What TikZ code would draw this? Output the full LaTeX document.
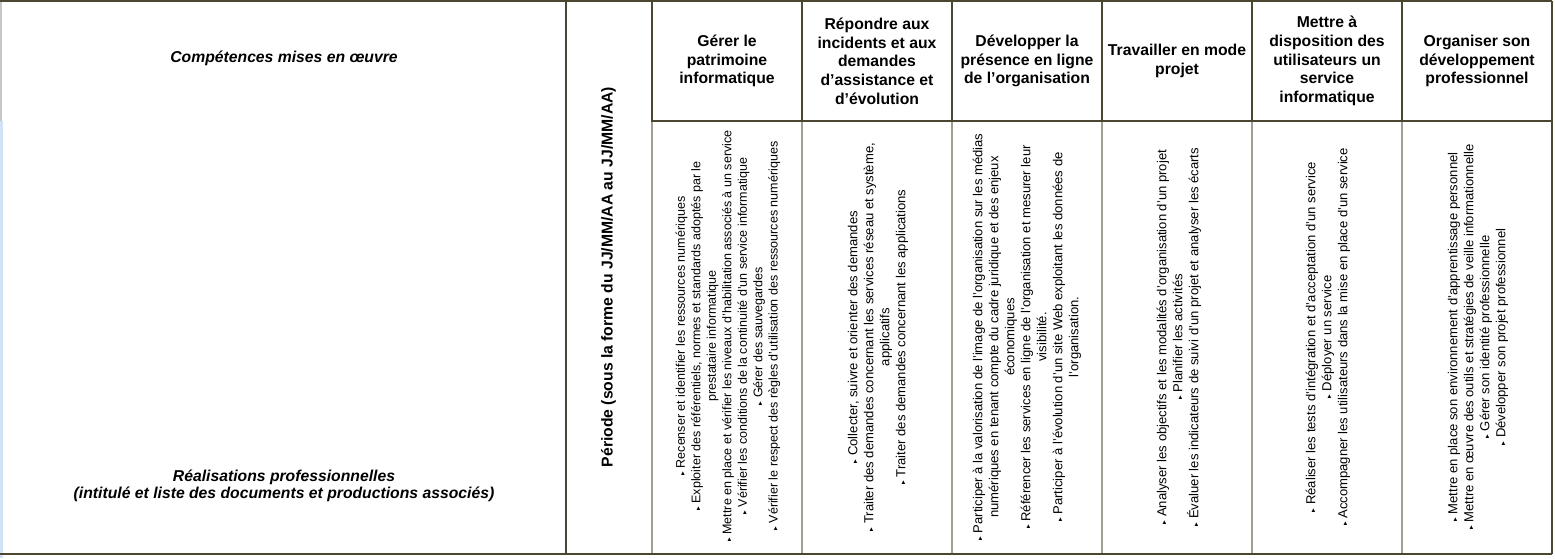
\documentclass[tikz,border=0pt]{standalone}
\usepackage{fontspec}
\setmainfont{Liberation Sans}
\newfontfamily\symfont{DejaVu Sans}
\usetikzlibrary{positioning}

\definecolor{rulecol}{HTML}{4A4630}
\definecolor{softcol}{HTML}{A29E92}
\definecolor{edgeblue}{HTML}{D2E2F6}

\newcommand{\puce}{{\symfont\fontsize{5.5}{5.5}\selectfont ▸}~}

\tikzset{
  rule/.style={rulecol, line width=1.5pt},
  softrule/.style={softcol, line width=1.5pt},
  headcell/.style={align=center, inner sep=0pt, font=\bfseries\fontsize{11.8}{14}\selectfont},
  sidecell/.style={align=center, inner sep=0pt, font=\bfseries\itshape\fontsize{11.8}{13}\selectfont},
  bodycell/.style={rotate=90, align=center, inner sep=0pt, font=\fontsize{9.8}{12}\selectfont},
}

\begin{document}
\begin{tikzpicture}[x=0.75pt, y=-0.75pt]
	\useasboundingbox (0,0) rectangle (1555,558);

	% left edge of the capture
	\fill[gray!45] (0,0) rectangle (1.5,121);
	\fill[edgeblue] (0,121) rectangle (3,558);

	% grid, body columns
	\draw[softrule] (652,121) -- (652,553);
	\draw[softrule] (802,121) -- (802,553);
	\draw[softrule] (952,121) -- (952,553);
	\draw[softrule] (1102,121) -- (1102,553);
	\draw[softrule] (1252,121) -- (1252,553);
	\draw[softrule] (1402,121) -- (1402,553);

	% grid, header columns and frame
	\draw[rule] (652,1) -- (652,121);
	\draw[rule] (802,1) -- (802,121);
	\draw[rule] (952,1) -- (952,121);
	\draw[rule] (1102,1) -- (1102,121);
	\draw[rule] (1252,1) -- (1252,121);
	\draw[rule] (1402,1) -- (1402,121);
	\draw[rule] (651,121) -- (1552,121);
	\draw[rule] (565.5,1) -- (565.5,553);
	\draw[rule] (1551.5,0.5) -- (1551.5,553.5);
	\draw[rule] (0,1) -- (1552,1);
	\draw[rule] (0,553.5) -- (1552,553.5);

	% left column
	\node[sidecell] (comp) at (284,58) {Compétences mises en œuvre};
	\node[sidecell] (real) at (284,486) {Réalisations professionnelles\\(intitulé et liste des documents et productions associés)};

	\node[headcell, rotate=90] (periode) at (608.5,277) {Période (sous la forme du JJ/MM/AA au JJ/MM/AA)};

	% header row
	\node[headcell] (patri) at (727,61) {Gérer le\\patrimoine\\informatique};
	\node[headcell] (incid) at (877,61) {Répondre aux\\incidents et aux\\demandes\\d’assistance et\\d’évolution};
	\node[headcell] (presence) at (1027,61) {Développer la\\présence en ligne\\de l’organisation};
	\node[headcell] (projet) at (1177,61) {Travailler en mode\\projet};
	\node[headcell] (service) at (1327,61) {Mettre à\\disposition des\\utilisateurs un\\service\\informatique};
	\node[headcell] (devpro) at (1477,61) {Organiser son\\développement\\professionnel};

	% body row
	\node[bodycell, font=\fontsize{9.4}{11.6}\selectfont] (patriB) at (728,336) {\puce Recenser et identifier les ressources numériques\\
		\puce Exploiter des référentiels, normes et standards adoptés par le\\
		prestataire informatique\\
		\puce Mettre en place et vérifier les niveaux d'habilitation associés à un service\\
		\puce Vérifier les conditions de la continuité d'un service informatique\\
		\puce Gérer des sauvegardes\\
		\puce Vérifier le respect des règles d'utilisation des ressources numériques};
	\node[bodycell] (incidB) at (878,337) {\puce Collecter, suivre et orienter des demandes\\
		\puce Traiter des demandes concernant les services réseau et système,\\
		applicatifs\\
		\puce Traiter des demandes concernant les applications};
	\node[bodycell] (presenceB) at (1027,337) {\puce Participer à la valorisation de l'image de l'organisation sur les médias\\
		numériques en tenant compte du cadre juridique et des enjeux\\
		économiques\\
		\puce Référencer les services en ligne de l'organisation et mesurer leur\\
		visibilité.\\
		\puce Participer à l'évolution d'un site Web exploitant les données de\\
		l'organisation.};
	\node[bodycell] (projetB) at (1179,337) {\puce Analyser les objectifs et les modalités d'organisation d'un projet\\
		\puce Planifier les activités\\
		\puce Évaluer les indicateurs de suivi d'un projet et analyser les écarts};
	\node[bodycell] (serviceB) at (1328,337) {\puce Réaliser les tests d'intégration et d'acceptation d'un service\\
		\puce Déployer un service\\
		\puce Accompagner les utilisateurs dans la mise en place d'un service};
	\node[bodycell] (devproB) at (1478,337) {\puce Mettre en place son environnement d'apprentissage personnel\\
		\puce Mettre en œuvre des outils et stratégies de veille informationnelle\\
		\puce Gérer son identité professionnelle\\
		\puce Développer son projet professionnel};
\end{tikzpicture}
\end{document}
